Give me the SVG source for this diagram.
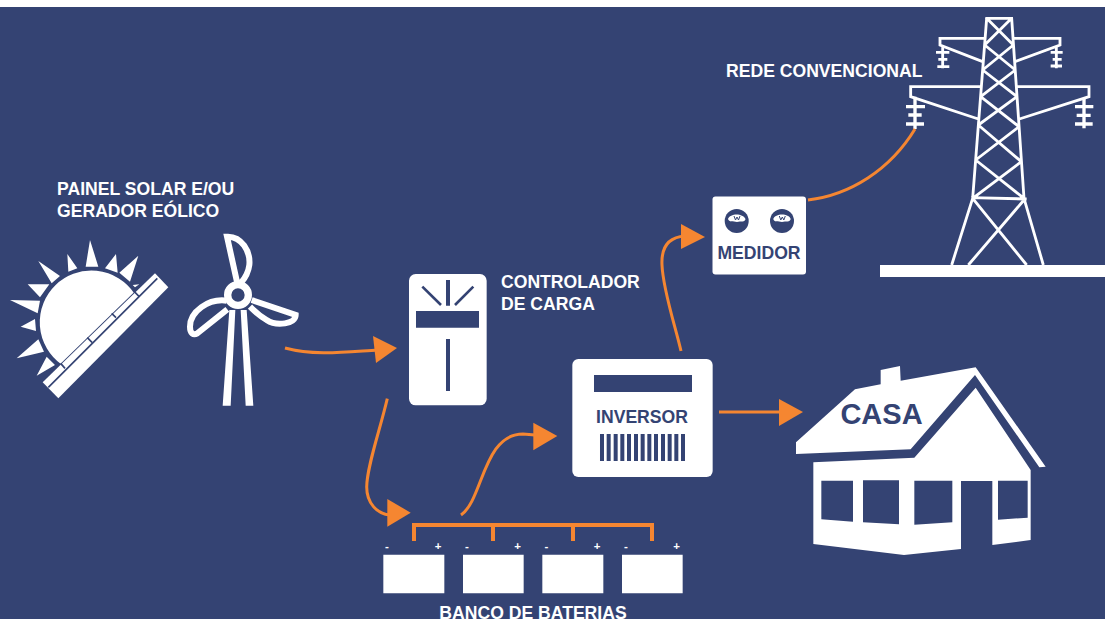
<svg xmlns="http://www.w3.org/2000/svg" width="1105" height="619" viewBox="0 0 1105 619">
<style>
.w{fill:#fff}.n{fill:#344373}
.lw{fill:none;stroke:#fff;stroke-linecap:butt;stroke-linejoin:miter}
.ln{fill:none;stroke:#344373}
.c{fill:none;stroke:#f58631;stroke-width:3}
.a{fill:#f58631}
text{font-family:"Liberation Sans",Arial,sans-serif;font-weight:700}
.tw{fill:#fff;font-size:17.6px}
.tn{fill:#344373}
.s{fill:#fff;font-size:11.5px;text-anchor:middle}
</style>
<rect width="1105" height="619" fill="#fff"/>
<rect y="7" width="1105" height="612" class="n"/>
<g id="solar">
<g transform="translate(0,170) scale(.33333)">
<path class="w" d="M270,210L257,290H295ZM202,252L205,305L232,295ZM115,273L155,340L180,318ZM83,343H148L120,382ZM30,390L120,392L113,430ZM62,470L105,447L108,483ZM50,565L115,508L132,545ZM110,617L140,560L165,585ZM315,295L348,252L353,308ZM358,308L415,257L390,335ZM398,345L418,343L405,352Z"/>
<path d="M182,585A158,158 0 1 1 405,368Z" class="w" stroke="#344373" stroke-width="6"/>
<path class="w" d="M465,310L505,352L175,685L128,637Z"/>
<path class="ln" stroke-width="5" d="M472,325L145,652M182,580L195,595M262,503L276,517M335,430L348,443M403,365L417,379"/>
</g>
<g transform="translate(0,170) scale(.33333)">
<path class="w" d="M688,420H706L692,707H668ZM722,420H740L760,707H737Z"/>
<path class="lw" stroke-width="18" stroke-linejoin="round" d="M712,340L681,200C725,198 752,245 748,285C745,310 735,325 722,340M680,392C625,385 570,425 570,470C570,490 580,497 592,490L682,418M755,390L887,435C887,462 830,470 800,450C775,435 762,422 750,410"/>
<circle cx="714" cy="375" r="31" fill="#344373" stroke="#fff" stroke-width="22"/>
</g>
<text class="tw"><tspan x="57" y="195">PAINEL SOLAR E/OU</tspan><tspan x="57" y="216.5">GERADOR EÓLICO</tspan></text>
</g>
<g id="controlador">
<g transform="translate(360,260) scale(.33333)">
<rect x="147" y="42" width="233" height="394" rx="20" class="w"/>
<path class="n" d="M168,153H357V203H168ZM258,237H270V393H258ZM258,60H270V137H258Z"/>
<path class="ln" stroke-width="8" d="M187,80L243,135M340,80L285,135"/>
</g>
<text class="tw"><tspan x="501" y="288">CONTROLADOR</tspan><tspan x="501" y="309.5">DE CARGA</tspan></text>
</g>
<g id="inversor">
<g transform="translate(360,260) scale(.33333)">
<rect x="637" y="297" width="421" height="354" rx="18" class="w"/>
<rect x="702" y="345" width="294" height="51" class="n"/>
<path class="ln" stroke-width="12" d="M726,522V603M746,522V603M767,522V603M787,522V603M807,522V603M828,522V603M848,522V603M868,522V603M888,522V603M909,522V603M929,522V603M949,522V603M969,522V603"/>
</g>
<text x="642" y="423" class="tn" font-size="17.6" text-anchor="middle">INVERSOR</text>
</g>
<g id="baterias">
<g transform="translate(360,260) scale(.33333)">
<path class="w" d="M70,884H253V1000H70ZM309,884H491V1000H309ZM547,884H730V1000H547ZM786,884H968V1000H786Z"/>
</g>
<text class="s"><tspan x="387" y="550">-</tspan><tspan x="438" y="550">+</tspan><tspan x="467" y="550">-</tspan><tspan x="517.5" y="550">+</tspan><tspan x="546.500" y="550">-</tspan><tspan x="597" y="550">+</tspan><tspan x="626" y="550">-</tspan><tspan x="676.500" y="550">+</tspan></text>
<text x="533" y="619" class="tw" text-anchor="middle">BANCO DE BATERIAS</text>
</g>
<g id="medidor">
<rect x="712.500" y="196.500" width="93.500" height="78" rx="3" class="w"/>
<circle cx="736.700" cy="221" r="12" class="n"/><circle cx="782" cy="221" r="12" class="n"/>
<path class="w" d="M728,219C730,213 743,213 745.500,219C745,222.500 741,221 737,222C733,221 729,222.500 728,219ZM773.300,219C775,213 789,213 790.700,219C790,222.500 786,221 782,222C778,221 774,222.500 773.300,219Z"/>
<path class="ln" stroke-width="1" d="M734,216L735.500,220L737,217L738.500,220L740,216M779.300,216L780.800,220L782.300,217L783.800,220L785.300,216"/>
<text x="759" y="259" class="tn" font-size="17.6" text-anchor="middle">MEDIDOR</text>
</g>
<g id="rede">
<g transform="translate(700,0) scale(.33333)">
<path class="lw" stroke-width="8.500" d="M856,55H939M860,55L818,595L755,795M935,55L972,595L1030,795M814,593L980,597M860,55L940,135M935,55L854,135M854,135L946,210M940,135L848,210M848,210L951,290M946,210L842,290M842,290L957,380M951,290L835,375M835,375L964,485M957,380L827,480M827,480L972,595M964,485L818,595M818,595L980,795M972,600L805,795M855,115H720V135L848,185M940,115H1080V135L945,185M840,260H632V290L835,357M950,260H1167V290L958,357M728,135V205M708,157H748M715,178H742M712,200H748M1069,140V205M1052,157H1088M1058,178H1085M1052,198H1086"/>
<path class="lw" stroke-width="10" d="M645,290V387M618,320H675M625,345H665M618,372H672M1152,295V385M1125,320H1180M1130,346H1172M1125,372H1178"/>
</g>
<rect x="880" y="265" width="225" height="12" class="w"/>
<text x="726" y="77" class="tw">REDE CONVENCIONAL</text>
</g>
<g id="casa">
<g transform="translate(780,350) scale(.33333)">
<path class="w" d="M48,277L225,118L302,103V60L360,48L362,92L587,52L797,350L778,352L585,75L392,298L48,312Z"/>
<path class="w" d="M100,337L403,323L587,113L752,360V570L637,585V393H543V597L372,615L100,582Z"/>
<path class="n" d="M124,392H219V515L124,508ZM249,391H357V523L249,517ZM403,392H517V517L403,524ZM654,392H743V503L654,509Z"/>
</g>
<text x="881.500" y="424" class="tn" font-size="29" text-anchor="middle">CASA</text>
</g>
<g id="connectors">
<path class="c" d="M285,348C315,356 345,352 378,350"/>
<path class="a" d="M373,336L397,348L376,363Z"/>
<path class="c" d="M387.300,398.700C380,430 366.700,467 366.700,487C366.700,503 377,514 390,515"/>
<path class="a" d="M387.300,499L410.700,512.700L387.300,526.700Z"/>
<path class="c" d="M461,515C483,500 483,434 523,434L535,435"/>
<path class="a" d="M533.300,422.700L557.300,436L533.300,450.300Z"/>
<path class="c" d="M681,351C675,325 663,290 662,265C661,245 670,237 685,236"/>
<path class="a" d="M681,224L705,237L681,249Z"/>
<path class="c" d="M719,412H785"/>
<path class="a" d="M779,399L803,412L779,426Z"/>
<path class="c" d="M808,200C850,195 890,170 915,129"/>
<path class="c" style="stroke-width:4" d="M414,541V525H652V541M493,525V541M573,525V541"/>
</g>
</svg>
